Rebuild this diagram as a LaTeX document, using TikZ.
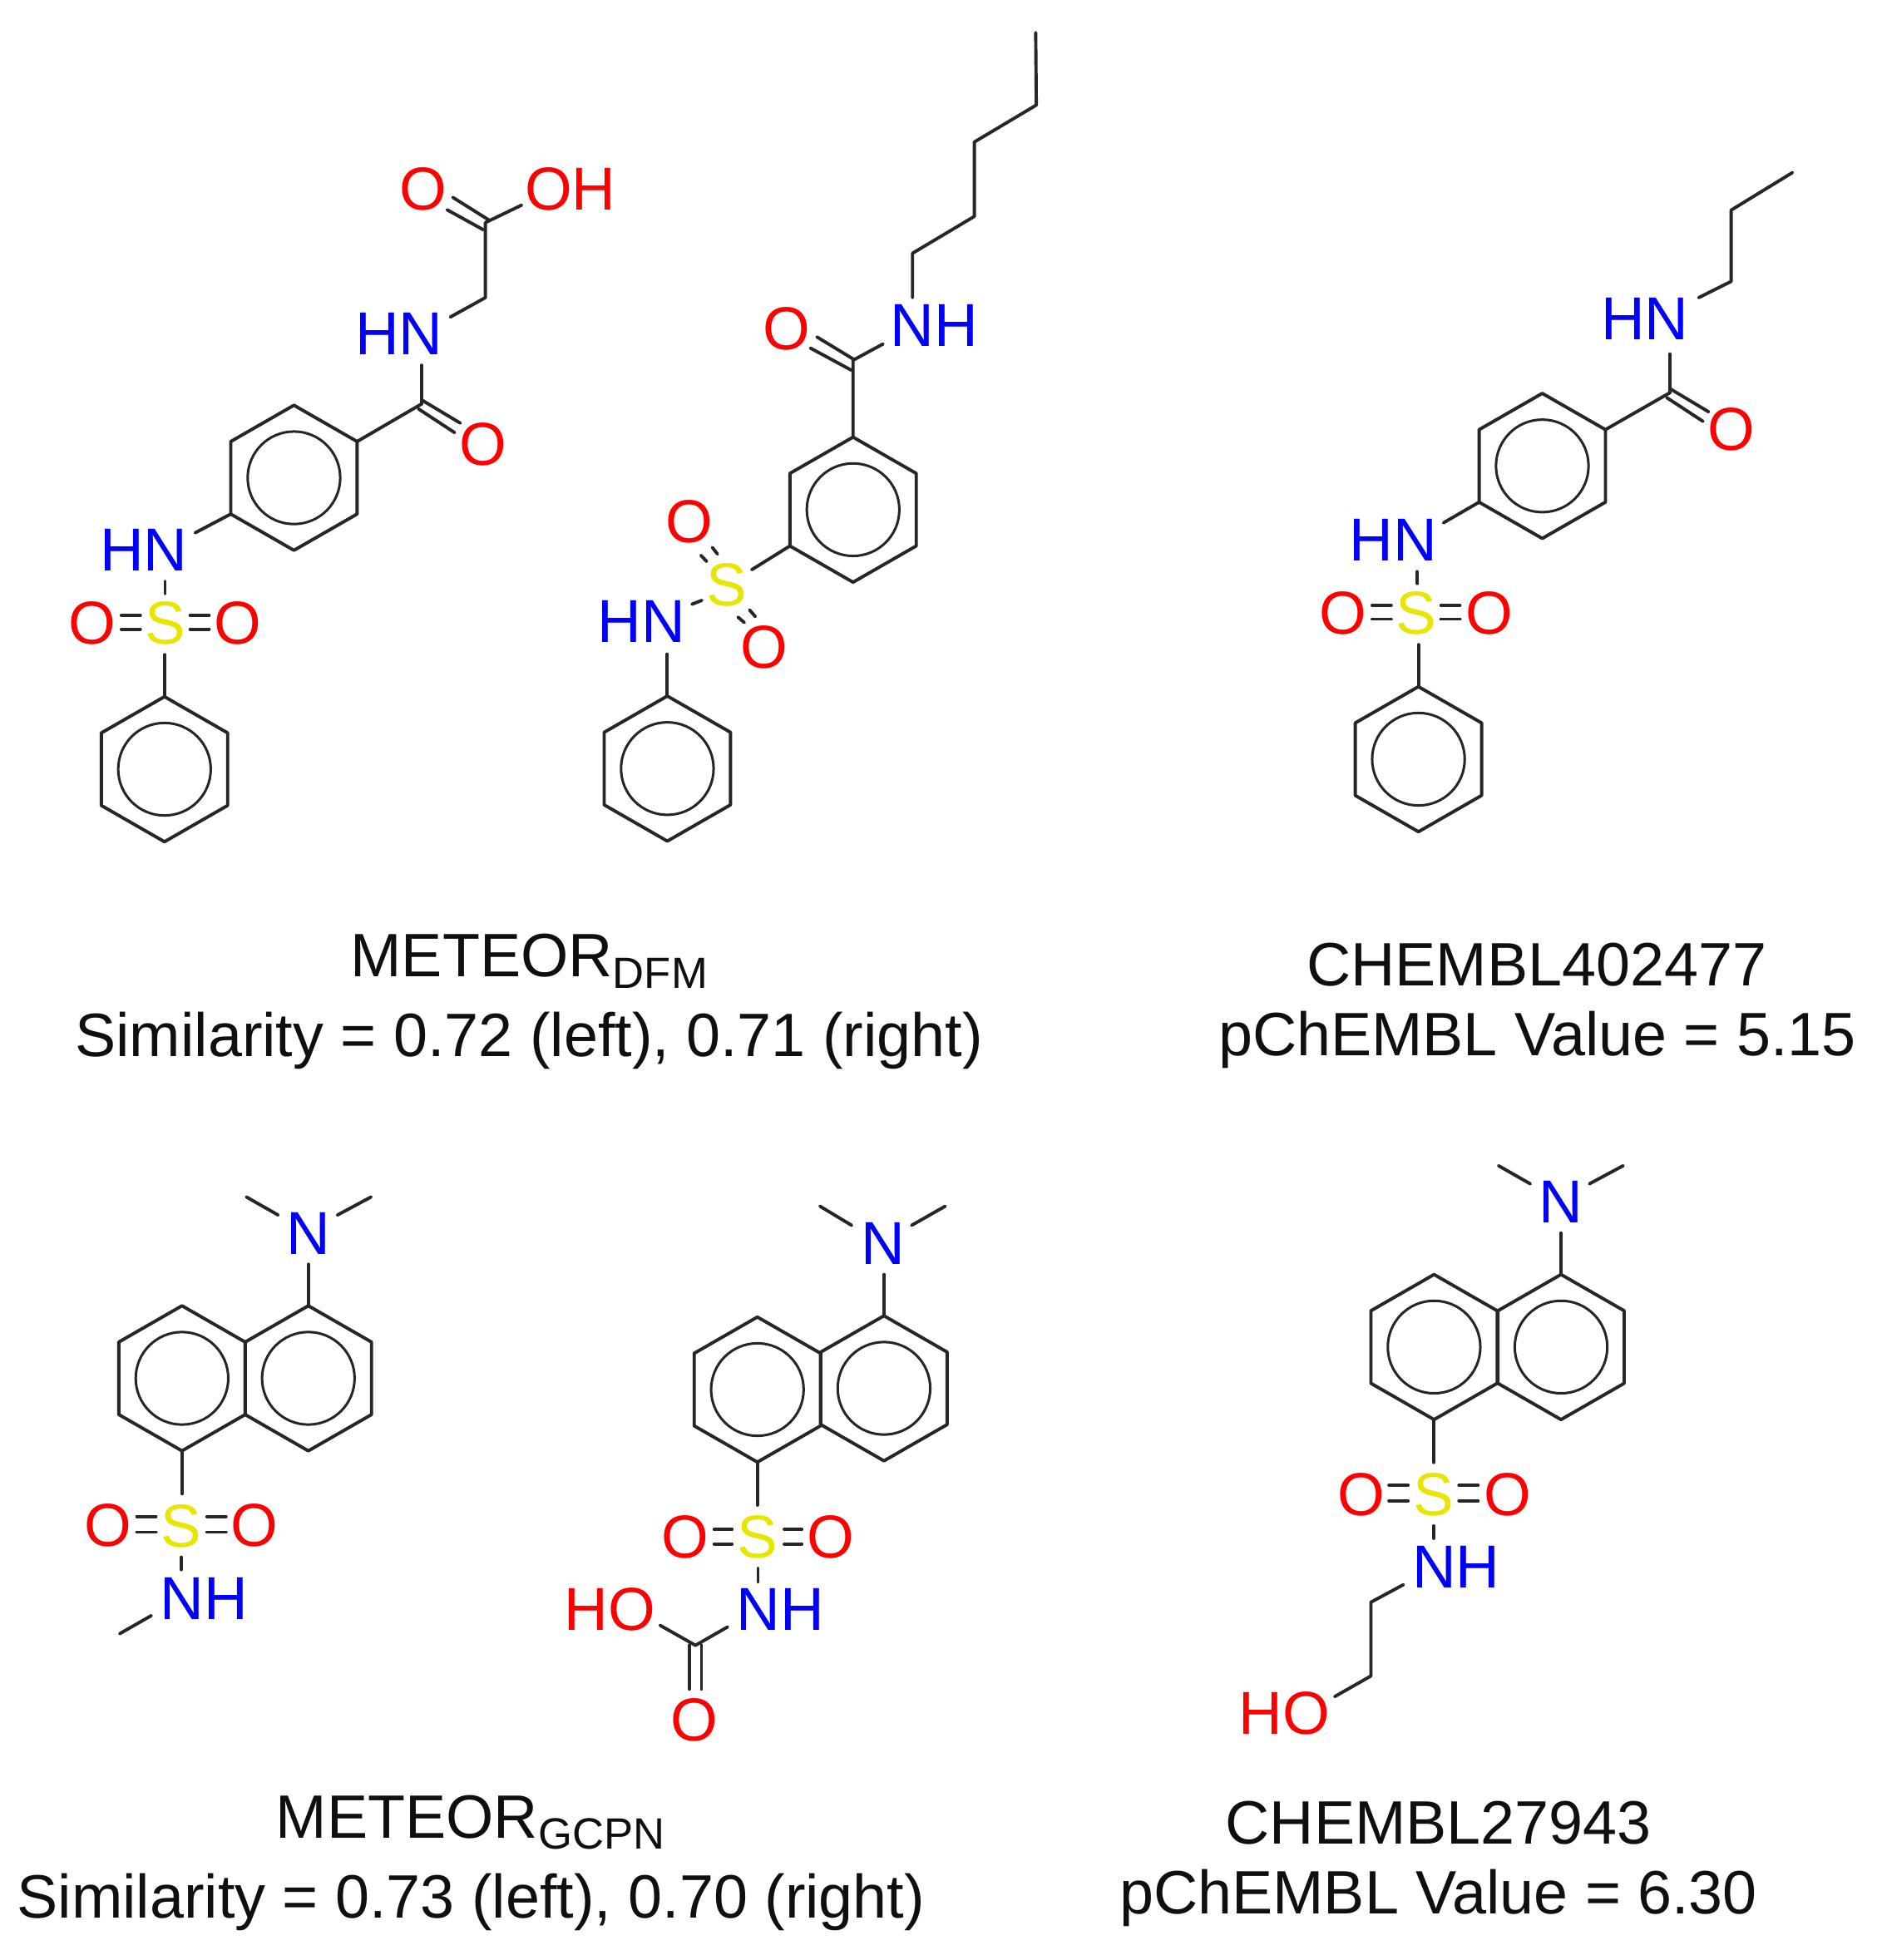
\documentclass[tikz,border=0pt]{standalone}
\usepackage{fontspec}
\setmainfont{Liberation Sans}
\definecolor{oxy}{RGB}{255,0,0}
\definecolor{nit}{RGB}{0,0,255}
\definecolor{sul}{RGB}{230,230,0}
\definecolor{captxt}{RGB}{15,15,15}
\tikzset{
  bond/.style={line width=2.6pt,draw=black!85,line cap=round,line join=round},
  inner ring/.style={draw=black!85,line width=2pt,circle,inner sep=0pt,minimum size=74pt},
  atom/.style={inner sep=0pt,outer sep=0pt,font=\fontsize{48.5}{50}\selectfont},
  O atom/.style={atom,text=oxy},
  N atom/.style={atom,text=nit},
  S atom/.style={atom,text=sul},
  caption text/.style={inner sep=0pt,anchor=base,text=captxt,font=\fontsize{49}{51}\selectfont}
}
\newcommand\benzene[3]{%
  \coordinate (#1a) at (#2,#3-58);
  \coordinate (#1b) at (#2+50.5,#3-29);
  \coordinate (#1c) at (#2+50.5,#3+29);
  \coordinate (#1d) at (#2,#3+58);
  \coordinate (#1e) at (#2-50.5,#3+29);
  \coordinate (#1f) at (#2-50.5,#3-29);
  \draw[bond] (#1a)--(#1b)--(#1c)--(#1d)--(#1e)--(#1f)--cycle;
  \node[inner ring] (#1o) at (#2,#3) {};
}
\newcommand\bd[5]{%
  \coordinate (#1s) at (#2,#3);
  \coordinate (#1t) at (#4,#5);
  \draw[bond] (#1s)--(#1t);
}
\newcommand\subt[1]{{\fontsize{35}{37}\selectfont\raisebox{-9pt}{#1}}}
\begin{document}
\begin{tikzpicture}[x=1pt,y=-1pt]
\useasboundingbox (0,0) rectangle (1500,1567.1);

% ---------- molecule 1 ----------
\benzene{pa}{235}{382}
\benzene{pb}{131.5}{615}
\node[O atom] (a1) at (338,151) {O};
\node[O atom] (a2) at (456,151) {OH};
\node[N atom] (a3) at (319,267) {HN};
\node[O atom] (a4) at (386,355) {O};
\node[N atom] (a5) at (115,440) {HN};
\node[S atom] (a6) at (132,498) {S};
\node[O atom] (a7) at (74,498) {O};
\node[O atom] (a8) at (190,498) {O};
\coordinate (c1) at (337,323);
\coordinate (c2) at (388,238);
\coordinate (c3) at (388,178);
\draw[bond] (pab)--(c1);
\bd{a}{337}{292}{337}{323}
\coordinate (e1) at (360,253.5);
\draw[bond] (e1)--(c2)--(c3);
\coordinate (e2) at (417,164);
\draw[bond] (c3)--(e2);
\bd{b}{357.4}{167.7}{386.4}{183.7}
\bd{c}{362}{157.8}{391}{176}
\bd{d}{334.5}{326.9}{363.5}{345.9}
\bd{e}{337.5}{320}{368}{338.3}
\coordinate (e3) at (156,426);
\draw[bond] (e3)--(pae);
\bd{f}{132}{465}{132}{474.5}
\bd{g}{97}{492}{112.2}{492}
\bd{h}{97}{503}{112.2}{503}
\bd{i}{152}{492}{167.2}{492}
\bd{j}{152}{503}{167.2}{503}
\coordinate (e4) at (131.5,523.4);
\draw[bond] (e4)--(pba);
\node[caption text] (t1) at (423,781) {METEOR\subt{DFM}};
\node[caption text] (t2) at (423,845) {Similarity = 0.72 (left), 0.71 (right)};

% ---------- molecule 2 ----------
\benzene{qa}{682}{407.5}
\benzene{qb}{533.5}{614.5}
\node[N atom] (b1) at (747,260.5) {NH};
\node[O atom] (b2) at (628.7,262.7) {O};
\node[S atom] (b3) at (581,467.6) {S};
\node[O atom] (b4) at (551.2,417.2) {O};
\node[O atom] (b5) at (611,517.4) {O};
\node[N atom] (b6) at (513,497) {HN};
\coordinate (d1) at (828,26);
\coordinate (d2) at (828.5,84);
\coordinate (d3) at (779,113.5);
\coordinate (d4) at (779,173);
\coordinate (d5) at (729.5,202.5);
\coordinate (d6) at (729.5,238);
\draw[bond] (d1)--(d2)--(d3)--(d4)--(d5)--(d6);
\coordinate (d7) at (682,288);
\coordinate (d8) at (706,275);
\draw[bond] (d8)--(d7)--(qaa);
\bd{k}{647.9}{278.3}{680.7}{296}
\bd{l}{653.1}{269.4}{682}{287}
\coordinate (d9) at (601,455.5);
\draw[bond] (d9)--(qae);
\bd{m}{553.2}{483.1}{561.1}{480}
\bd{n}{560.3}{444}{565}{448.9}
\bd{o}{569.5}{437.7}{573.6}{443}
\bd{p}{590}{493.4}{595.1}{497.8}
\bd{q}{599.2}{487.6}{603.9}{493}
\coordinate (d10) at (533.5,523);
\draw[bond] (d10)--(qba);

% ---------- molecule 3 ----------
\benzene{ra}{1233}{372.5}
\benzene{rb}{1134}{607}
\node[N atom] (c01) at (1315,255) {HN};
\node[O atom] (c02) at (1384,343) {O};
\node[N atom] (c03) at (1114,432) {HN};
\node[S atom] (c04) at (1132,490) {S};
\node[O atom] (c05) at (1074,490) {O};
\node[O atom] (c06) at (1191,490) {O};
\coordinate (f1) at (1335,314);
\draw[bond] (rab)--(f1);
\bd{r}{1335}{283}{1335}{314}
\coordinate (f2) at (1358,238);
\coordinate (f3) at (1384,225);
\coordinate (f4) at (1384,168);
\coordinate (f5) at (1433,138);
\draw[bond] (f2)--(f3)--(f4)--(f5);
\bd{s}{1332.5}{317.9}{1361.5}{336.9}
\bd{u}{1335.5}{311}{1366}{329.3}
\coordinate (f6) at (1154,418);
\draw[bond] (f6)--(rae);
\bd{v}{1133}{457}{1133}{466.5}
\bd{w}{1097}{484}{1112.2}{484}
\bd{x}{1097}{495}{1112.2}{495}
\bd{y}{1152}{484}{1167.2}{484}
\bd{z}{1152}{495}{1167.2}{495}
\coordinate (f7) at (1134,515.4);
\draw[bond] (f7)--(rba);
\node[caption text] (t3) at (1228.5,788) {CHEMBL402477};
\node[caption text] (t4) at (1229,844) {pChEMBL Value = 5.15};

% ---------- molecule 4 ----------
\benzene{sa}{145.5}{1102}
\benzene{sb}{246.5}{1102}
\node[N atom] (g1) at (246.8,986) {N};
\node[S atom] (g2) at (145,1220) {S};
\node[O atom] (g3) at (86.5,1219.5) {O};
\node[O atom] (g4) at (203.6,1219.5) {O};
\node[N atom] (g5) at (163,1278) {NH};
\bd{aa}{197}{957}{222.4}{971.5}
\bd{ab}{296.7}{957}{269.7}{971.5}
\coordinate (h1) at (246.5,1010.8);
\draw[bond] (h1)--(sba);
\coordinate (h2) at (145.5,1194.3);
\draw[bond] (h2)--(sad);
\bd{ac}{109.4}{1212.5}{124.7}{1212.5}
\bd{ad}{109.4}{1225}{124.7}{1225}
\bd{ae}{165.4}{1212.5}{180.7}{1212.5}
\bd{af}{165.4}{1225}{180.7}{1225}
\bd{ag}{145}{1245}{145}{1255}
\bd{ah}{121}{1291.7}{95.7}{1306.2}
\node[caption text] (t5) at (376,1469.5) {METEOR\subt{GCPN}};
\node[caption text] (t6) at (376.5,1533.5) {Similarity = 0.73 (left), 0.70 (right)};

% ---------- molecule 5 ----------
\benzene{ta}{605.5}{1111}
\benzene{tb}{706.7}{1110}
\node[N atom] (j1) at (705.9,994) {N};
\node[S atom] (j2) at (605.6,1229) {S};
\node[O atom] (j3) at (547.6,1229) {O};
\node[O atom] (j4) at (664,1229) {O};
\node[N atom] (j5) at (623.7,1287) {NH};
\node[O atom] (j6) at (487.8,1287) {HO};
\node[O atom] (j7) at (555.2,1375) {O};
\bd{ai}{655.5}{964.4}{680.9}{979.7}
\bd{aj}{755.7}{964.4}{728.8}{979.7}
\coordinate (k1) at (706.7,1019);
\draw[bond] (k1)--(tba);
\coordinate (k2) at (605.5,1203.4);
\draw[bond] (k2)--(tad);
\bd{ak}{571}{1222.9}{585.2}{1222.9}
\bd{al}{571}{1234.5}{585.2}{1234.5}
\bd{am}{627}{1222.9}{641}{1222.9}
\bd{an}{627}{1234.5}{641}{1234.5}
\bd{ao}{606}{1254}{606}{1264.7}
\coordinate (k3) at (556,1315.5);
\coordinate (k4) at (581.7,1300.8);
\coordinate (k5) at (527.7,1299.5);
\draw[bond] (k4)--(k3)--(k5);
\bd{ap}{551.1}{1315.3}{551.1}{1350.5}
\bd{aq}{560.8}{1315.3}{560.8}{1350.5}

% ---------- molecule 6 ----------
\benzene{ua}{1146.5}{1077}
\benzene{ub}{1248}{1077}
\node[N atom] (m1) at (1248,961) {N};
\node[S atom] (m2) at (1146,1195) {S};
\node[O atom] (m3) at (1088,1195) {O};
\node[O atom] (m4) at (1205,1195) {O};
\node[N atom] (m5) at (1164,1253) {NH};
\node[O atom] (m6) at (1027,1370) {HO};
\bd{ar}{1198}{932}{1223.4}{946.5}
\bd{as}{1297.7}{932}{1270.7}{946.5}
\coordinate (n1) at (1248,985.8);
\draw[bond] (n1)--(uba);
\coordinate (n2) at (1146.5,1169.3);
\draw[bond] (n2)--(uad);
\bd{at}{1110.4}{1187.5}{1125.7}{1187.5}
\bd{au}{1110.4}{1200}{1125.7}{1200}
\bd{av}{1166.4}{1187.5}{1181.7}{1187.5}
\bd{aw}{1166.4}{1200}{1181.7}{1200}
\bd{ax}{1146}{1220}{1146}{1230}
\coordinate (n3) at (1122,1267);
\coordinate (n4) at (1096,1281);
\coordinate (n5) at (1096,1340);
\coordinate (n6) at (1067,1356.5);
\draw[bond] (n3)--(n4)--(n5)--(n6);
\node[caption text] (t7) at (1150,1474.5) {CHEMBL27943};
\node[caption text] (t8) at (1150,1530) {pChEMBL Value = 6.30};
\end{tikzpicture}
\end{document}
